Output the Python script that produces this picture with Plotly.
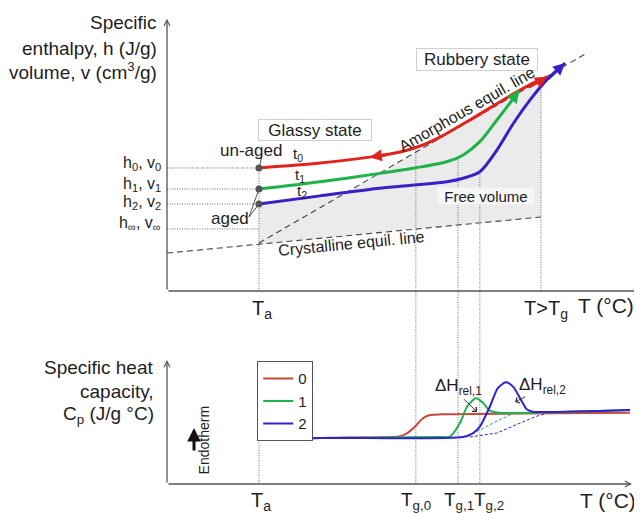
import numpy as np
import plotly.graph_objects as go

# ---------------- data (schematic units) ----------------
# Temperature axis: 0 = axis origin, 100 = end of axis (arbitrary units)
T_a = 19.4
T_g0 = 52.5
T_g1 = 61.4
T_g2 = 66.0
T_end = 78.9

# specific enthalpy / volume levels at T_a (top panel, 0..100)
h_levels = [45.4, 37.6, 32.1, 22.9]
h_level_labels = ["h<sub>0</sub>, v<sub>0</sub>", "h<sub>1</sub>, v<sub>1</sub>",
                  "h<sub>2</sub>, v<sub>2</sub>", "h<sub>∞</sub>, v<sub>∞</sub>"]

# top panel: enthalpy curves for ageing times t0, t1, t2
t0_T = [19.4, 32.3, 42.8, 49.2, 53.4, 57.6, 63.9, 70.9, 77.2, 80.2]
t0_h = [45.4, 47.2, 49.4, 51.3, 53.5, 56.8, 63.1, 70.5, 76.7, 79.0]
t1_T = [19.4, 32.3, 44.9, 51.9, 59.0, 62.5, 66.0, 69.6, 73.1, 74.3]
t1_h = [37.6, 40.3, 43.4, 45.3, 47.7, 50.2, 55.1, 63.1, 71.1, 73.9]
t2_T = [19.4, 32.3, 44.9, 52.0, 59.0, 62.5, 66.0, 69.6, 73.1, 76.6, 80.1, 84.0]
t2_h = [32.1, 35.1, 37.9, 39.1, 40.3, 41.6, 44.0, 52.0, 61.9, 70.5, 77.9, 84.1]

# equilibrium lines
amorph_T = [19.4, 88.6]
amorph_h = [17.7, 87.8]
cryst_T = [0.0, 78.9]
cryst_h = [14.0, 27.3]

# bottom panel: specific heat capacity (0..100)
cp0_T = [19.4, 32.3, 47.0, 49.2, 50.6, 52.3, 54.0, 55.5, 58.0, 75.0, 97.7]
cp0 = [35.5, 37.1, 37.9, 38.6, 40.9, 46.2, 53.0, 55.6, 56.2, 56.8, 57.5]
cp1_T = [19.4, 32.3, 57.0, 59.7, 61.8, 63.3, 65.2, 66.7, 68.1, 70.0, 97.7]
cp1 = [35.5, 37.1, 37.9, 38.3, 49.2, 62.3, 69.1, 65.3, 59.1, 57.5, 59.7]
cp2_T = [19.4, 32.3, 62.4, 64.6, 66.0, 68.1, 69.8, 71.5, 73.0, 74.9, 75.9, 77.2, 80.0, 97.7]
cp2 = [35.5, 37.1, 37.9, 41.1, 46.2, 62.3, 77.4, 82.0, 78.5, 66.4, 60.2, 58.3, 58.0, 59.7]
cp1_base_T = [62.4, 66.0, 69.2, 72.4]
cp1_base = [37.9, 43.5, 50.0, 55.6]
cp2_base_T = [63.9, 69.6, 74.5, 78.1, 80.8]
cp2_base = [37.9, 41.1, 49.2, 54.8, 57.5]

legend_names = ["0", "1", "2"]

# ---------------- layout / style ----------------
W, H = 642, 513
OFF = 8                          # page body margin
X0_PX, X_SCALE = 167 - OFF, 4.74      # pixel of T=0, px per unit
Y0_PX, Y_SCALE = 291 - OFF, 2.71      # top panel
Y2_0_PX, Y2_SCALE = 484 - OFF, 1.24   # bottom panel
xrange = [(0 - X0_PX) / X_SCALE, (W - X0_PX) / X_SCALE]
yrange = [(Y0_PX - H) / Y_SCALE, Y0_PX / Y_SCALE]
y2range = [(Y2_0_PX - H) / Y2_SCALE, Y2_0_PX / Y2_SCALE]


def px(x):
    return (x - OFF) / W


def py(y):
    return 1 - (y - OFF) / H


def cp_to_h(cp):
    p = Y2_0_PX - cp * Y2_SCALE
    return (Y0_PX - p) / Y_SCALE


FONT = "Liberation Sans, Arial, sans-serif"
INK = "#1e1e1e"
RED_T = "#e0231c"
GREEN = "#1fb24a"
BLUE_T = "#3a1fc4"
RED_B = "#c8493c"
BLUE_B = "#2f22cf"
GRID = "#666666"
DASHC = "#444444"

fig = go.Figure()


def line(x, y, color, width=1, dash=None, yaxis="y", shape="linear", smooth=None):
    ln = dict(color=color, width=width, shape=shape)
    if dash:
        ln["dash"] = dash
    if smooth is not None:
        ln["smoothing"] = smooth
    fig.add_trace(go.Scatter(x=x, y=y, mode="lines", line=ln, yaxis=yaxis,
                             showlegend=False, hoverinfo="skip"))


# grey "free volume" region
Tg = np.linspace(T_a, T_end, 200)
top = np.maximum(np.interp(Tg, amorph_T, amorph_h), np.interp(Tg, t2_T, t2_h))
bot = np.interp(Tg, cryst_T, cryst_h)
fig.add_trace(go.Scatter(x=np.concatenate([Tg, Tg[::-1]]), y=np.concatenate([top, bot[::-1]]),
                         fill="toself", fillcolor="#ebebeb", line=dict(width=0),
                         mode="lines", showlegend=False, hoverinfo="skip"))

# equilibrium lines
line(cryst_T, cryst_h, DASHC, 1.1, "6px,4px")
line(amorph_T, amorph_h, DASHC, 1.1, "6px,4px")

# dotted guide lines
for hv in h_levels:
    line([0, T_a], [hv, hv], GRID, 1, "1px,1.5px")
line([T_a, T_a], [h_levels[0], 0], GRID, 1, "1px,1.5px")
line([T_end, T_end], [float(np.interp(T_end, t0_T, t0_h)), 0], GRID, 1, "1px,1.5px")
for Tv, cT, ch in [(T_g0, t0_T, t0_h), (T_g1, t1_T, t1_h), (T_g2, t2_T, t2_h)]:
    line([Tv, Tv], [float(np.interp(Tv, cT, ch)), cp_to_h(0)], GRID, 1, "1px,1.5px")
line([T_a, T_a], [cp0[0], 0], GRID, 1, "1px,1.5px", yaxis="y2")

# top curves
line(t0_T, t0_h, RED_T, 3, shape="spline", smooth=0.8)
line(t1_T, t1_h, GREEN, 3, shape="spline", smooth=0.8)
line(t2_T, t2_h, BLUE_T, 3, shape="spline", smooth=0.8)

# state points at T_a
fig.add_trace(go.Scatter(x=[T_a] * 3, y=h_levels[:3], mode="markers",
                         marker=dict(size=7, color="#555555"), showlegend=False, hoverinfo="skip"))

# aged / un-aged pointers
line([20.0, T_a], [49.4, h_levels[0]], "#555555", 1)
line([17.3, T_a], [27.3, h_levels[1]], "#555555", 1)
line([17.3, T_a], [27.3, h_levels[2]], "#555555", 1)

# bottom curves
line(cp1_base_T, cp1_base, GREEN, 1, "3px,2px", yaxis="y2")
line(cp2_base_T, cp2_base, BLUE_B, 1, "3px,2px", yaxis="y2")
for xs, ys, col, nm in [(cp0_T, cp0, RED_B, legend_names[0]),
                        (cp1_T, cp1, GREEN, legend_names[1]),
                        (cp2_T, cp2, BLUE_B, legend_names[2])]:
    fig.add_trace(go.Scatter(x=xs, y=ys, mode="lines", name=nm, yaxis="y2",
                             line=dict(color=col, width=2, shape="spline", smoothing=0.7),
                             hoverinfo="skip"))

# ---------------- annotations ----------------
ann = []


def txt(x, y, text, size=17, xref="x", yref="y", **kw):
    d = dict(x=x, y=y, xref=xref, yref=yref, text=text, showarrow=False,
             font=dict(size=size, color=INK, family=FONT))
    d.update(kw)
    ann.append(d)


def arrow(x, y, ax, ay, color, width, head, size, yref="y"):
    ann.append(dict(x=x, y=y, ax=ax, ay=ay, xref="x", yref=yref, axref="x", ayref=yref,
                    text="", showarrow=True, arrowhead=head, arrowsize=size,
                    arrowwidth=width, arrowcolor=color, standoff=0, startstandoff=0))


# axes
arrow(0, 100.5, 0, 0, "#555555", 1.3, 5, 0.9)
arrow(100, 0, 0, 0, "#555555", 1.3, 5, 0.9)
arrow(0, 100, 0, 0, "#555555", 1.3, 5, 0.9, yref="y2")
arrow(98.1, 0, 0, 0, "#555555", 1.3, 5, 0.9, yref="y2")

# curve arrows
arrow(t0_T[-1], t0_h[-1], 76.0, 74.9, RED_T, 3, 2, 0.8)
arrow(t1_T[-1], t1_h[-1], 73.1, 71.1, GREEN, 3, 2, 0.8)
arrow(t2_T[-1], t2_h[-1], 80.1, 77.9, BLUE_T, 3, 2, 0.8)
arrow(42.8, 49.4, 46.4, 50.3, RED_T, 3, 2, 0.8)

# endotherm arrow
arrow(5.7, 45.2, 5.7, 25.8, "#111111", 3, 2, 0.9, yref="y2")
txt(7.9, 35.5, "Endotherm", 14, yref="y2", textangle=-90)

# ΔH arrows
arrow(65.4, 58.1, 62.4, 69.4, "#333333", 1, 4, 1.2, yref="y2")
arrow(73.4, 66.1, 75.9, 71.0, "#333333", 1, 4, 1.2, yref="y2")
txt(61.4, 78.5, "ΔH<sub>rel,1</sub>", 17, yref="y2")
txt(79.3, 79.0, "ΔH<sub>rel,2</sub>", 17, yref="y2")

# y titles (paper coords)
for s, ypix in [("Specific", 23), ("enthalpy, h (J/g)", 48), ("volume, v (cm<sup>3</sup>/g)", 71)]:
    txt(px(159), py(ypix), s, 19, xref="paper", yref="paper", xanchor="right", yanchor="middle")
for s, ypix in [("Specific heat", 367), ("capacity,", 391), ("C<sub>p</sub> (J/g °C)", 415)]:
    txt(px(156), py(ypix), s, 19, xref="paper", yref="paper", xanchor="right", yanchor="middle")

# h levels labels
for hv, lab, sh in zip(h_levels, h_level_labels, [4, 5, 2, 5]):
    txt(-0.8, hv, lab, 16, xanchor="right", yanchor="middle", yshift=sh)

# x tick labels top
txt(T_a + 0.6, -6.8, "T<sub>a</sub>", 20)
txt(T_end + 1.1, -6.8, "T&gt;T<sub>g</sub>", 20)
txt(92.7, -5.5, "T (°C)", 21)
# x tick labels bottom
txt(T_a + 0.4, -13.8, "T<sub>a</sub>", 20, yref="y2")
txt(T_g0, -13.8, "T<sub>g,0</sub>", 19, yref="y2")
txt(T_g1 + 0.2, -13.8, "T<sub>g,1</sub>", 19, yref="y2")
txt(T_g2 + 2.0, -13.8, "T<sub>g,2</sub>", 19, yref="y2")
txt(93.0, -13.5, "T (°C)", 21, yref="y2")

# state boxes and labels
txt(31.3, 59.4, "Glassy state", 17, bgcolor="white", bordercolor="#cfcfcf", borderwidth=1,
    width=110, height=18)
txt(65.5, 85.4, "Rubbery state", 17, bgcolor="white", bordercolor="#cfcfcf", borderwidth=1,
    width=118, height=19)
txt(67.4, 34.9, "Free volume", 15, bgcolor="#f6f6f6", width=94, height=14)
txt(63.2, 67.0, "Amorphous equil. line", 16, textangle=-30)
txt(39.0, 17.4, "Crystalline equil. line", 16, textangle=-5.5)
txt(17.7, 51.8, "un-aged", 17)
txt(13.3, 26.8, "aged", 17)
txt(27.6, 50.2, "t<sub>0</sub>", 15)
txt(28.1, 42.8, "t<sub>1</sub>", 15)
txt(28.5, 36.9, "t<sub>2</sub>", 15)

fig.update_layout(
    width=W, height=H, margin=dict(l=0, r=0, t=0, b=0),
    paper_bgcolor="white", plot_bgcolor="white",
    xaxis=dict(range=xrange, visible=False, domain=[0, 1], fixedrange=True),
    yaxis=dict(range=yrange, visible=False, domain=[0, 1], fixedrange=True),
    yaxis2=dict(range=y2range, visible=False, overlaying="y", fixedrange=True),
    annotations=ann,
    showlegend=True,
    legend=dict(x=px(257), y=py(361), xanchor="left", yanchor="top",
                bgcolor="white", bordercolor="#555555", borderwidth=1.2,
                font=dict(size=15, color=INK, family=FONT), tracegroupgap=0),
    font=dict(family=FONT, color=INK),
)

fig.write_html("out.html")
